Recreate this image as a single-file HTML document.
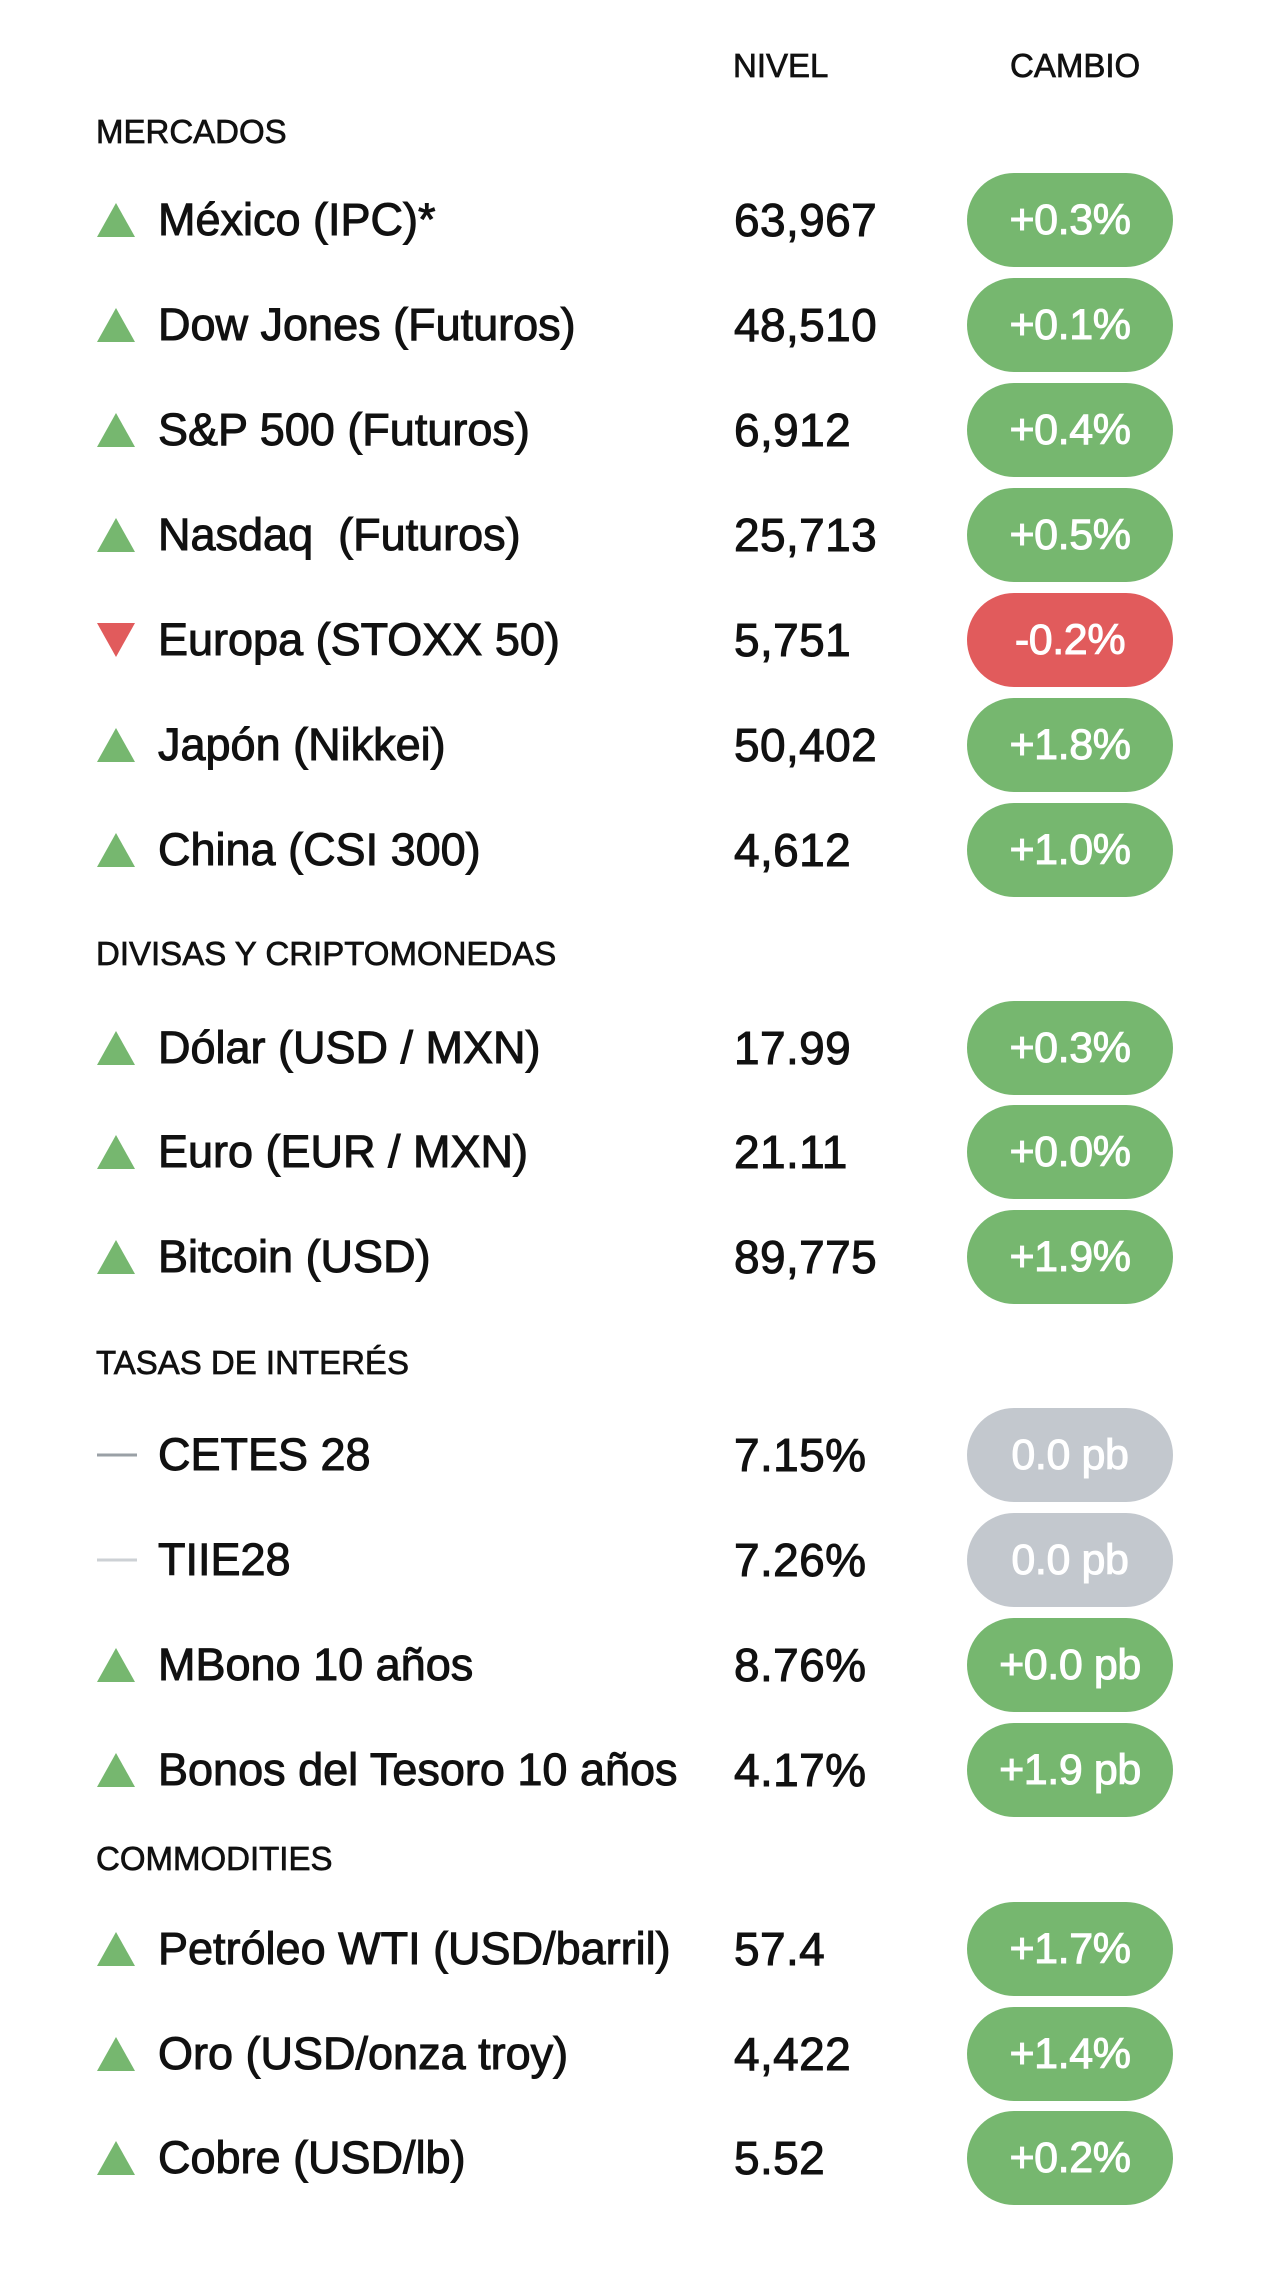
<!DOCTYPE html>
<html><head><meta charset="utf-8"><style>
body{margin:0;width:1280px;height:2281px;background:#fff;position:relative;font-family:"Liberation Sans",sans-serif;color:#111;overflow:hidden}
.t{position:absolute;white-space:nowrap;-webkit-text-stroke:1px #111}
.h{font-size:33px;letter-spacing:0px;transform:translateY(-50%);-webkit-text-stroke:0.7px #111}
.n{font-size:45px;letter-spacing:0px;left:158px;transform:translateY(-50%)}
.v{font-size:46px;letter-spacing:0.4px;left:734px;transform:translateY(-50%)}
.p{position:absolute;left:967px;width:206px;height:94px;border-radius:47px;color:#fff;font-size:43px;letter-spacing:-0.4px;display:flex;align-items:center;justify-content:center;transform:translateY(-50%);-webkit-text-stroke:1px #fff}
.g{background:#76b76f}.r{background:#e15b5c}.x{background:#c3c8ce}
.up{position:absolute;left:97px;width:0;height:0;border-left:19px solid transparent;border-right:19px solid transparent;border-bottom:34px solid #76b76f;transform:translateY(-50%)}
.dn{position:absolute;left:97px;width:0;height:0;border-left:19px solid transparent;border-right:19px solid transparent;border-top:34px solid #e15b5c;transform:translateY(-50%)}
.ds{position:absolute;left:97px;width:40px;height:3px;transform:translateY(-50%)}
</style></head><body>
<div class="t h" style="left:733px;top:66px">NIVEL</div>
<div class="t h" style="left:1010px;top:66px">CAMBIO</div>
<div class="t h" style="left:96px;top:132px">MERCADOS</div>
<div class="t h" style="left:96px;top:954px">DIVISAS Y CRIPTOMONEDAS</div>
<div class="t h" style="left:96px;top:1363px">TASAS DE INTERÉS</div>
<div class="t h" style="left:96px;top:1859px">COMMODITIES</div>

<div class="up" style="top:220px"></div><div class="t n" style="top:220px">México (IPC)*</div><div class="t v" style="top:220px">63,967</div><div class="p g" style="top:220px">+0.3%</div>
<div class="up" style="top:325px"></div><div class="t n" style="top:325px">Dow Jones (Futuros)</div><div class="t v" style="top:325px">48,510</div><div class="p g" style="top:325px">+0.1%</div>
<div class="up" style="top:430px"></div><div class="t n" style="top:430px">S&amp;P 500 (Futuros)</div><div class="t v" style="top:430px">6,912</div><div class="p g" style="top:430px">+0.4%</div>
<div class="up" style="top:535px"></div><div class="t n" style="top:535px">Nasdaq&nbsp; (Futuros)</div><div class="t v" style="top:535px">25,713</div><div class="p g" style="top:535px">+0.5%</div>
<div class="dn" style="top:640px"></div><div class="t n" style="top:640px">Europa (STOXX 50)</div><div class="t v" style="top:640px">5,751</div><div class="p r" style="top:640px">-0.2%</div>
<div class="up" style="top:745px"></div><div class="t n" style="top:745px">Japón (Nikkei)</div><div class="t v" style="top:745px">50,402</div><div class="p g" style="top:745px">+1.8%</div>
<div class="up" style="top:850px"></div><div class="t n" style="top:850px">China (CSI 300)</div><div class="t v" style="top:850px">4,612</div><div class="p g" style="top:850px">+1.0%</div>

<div class="up" style="top:1048px"></div><div class="t n" style="top:1048px">Dólar (USD / MXN)</div><div class="t v" style="top:1048px">17.99</div><div class="p g" style="top:1048px">+0.3%</div>
<div class="up" style="top:1152px"></div><div class="t n" style="top:1152px">Euro (EUR / MXN)</div><div class="t v" style="top:1152px">21.11</div><div class="p g" style="top:1152px">+0.0%</div>
<div class="up" style="top:1257px"></div><div class="t n" style="top:1257px">Bitcoin (USD)</div><div class="t v" style="top:1257px">89,775</div><div class="p g" style="top:1257px">+1.9%</div>

<div class="ds" style="top:1455px;background:#9aa0a6"></div><div class="t n" style="top:1455px">CETES 28</div><div class="t v" style="top:1455px">7.15%</div><div class="p x" style="top:1455px">0.0 pb</div>
<div class="ds" style="top:1560px;background:#cdd1d5"></div><div class="t n" style="top:1560px">TIIE28</div><div class="t v" style="top:1560px">7.26%</div><div class="p x" style="top:1560px">0.0 pb</div>
<div class="up" style="top:1665px"></div><div class="t n" style="top:1665px">MBono 10 años</div><div class="t v" style="top:1665px">8.76%</div><div class="p g" style="top:1665px">+0.0 pb</div>
<div class="up" style="top:1770px"></div><div class="t n" style="top:1770px">Bonos del Tesoro 10 años</div><div class="t v" style="top:1770px">4.17%</div><div class="p g" style="top:1770px">+1.9 pb</div>

<div class="up" style="top:1949px"></div><div class="t n" style="top:1949px">Petróleo WTI (USD/barril)</div><div class="t v" style="top:1949px">57.4</div><div class="p g" style="top:1949px">+1.7%</div>
<div class="up" style="top:2054px"></div><div class="t n" style="top:2054px">Oro (USD/onza troy)</div><div class="t v" style="top:2054px">4,422</div><div class="p g" style="top:2054px">+1.4%</div>
<div class="up" style="top:2158px"></div><div class="t n" style="top:2158px">Cobre (USD/lb)</div><div class="t v" style="top:2158px">5.52</div><div class="p g" style="top:2158px">+0.2%</div>
</body></html>
